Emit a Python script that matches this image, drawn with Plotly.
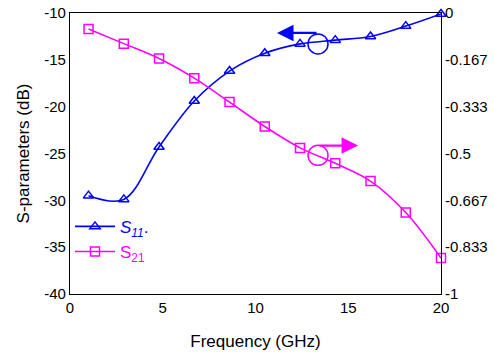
import plotly.graph_objects as go

freq = [1, 2.9, 4.8, 6.7, 8.6, 10.5, 12.4, 14.3, 16.2, 18.1, 20]
s11_db = [-29.5, -29.9, -24.3, -19.4, -16.2, -14.3, -13.3, -12.9, -12.5, -11.4, -10.1]
s21_right = [-0.057, -0.109, -0.162, -0.232, -0.317, -0.404, -0.48, -0.535, -0.598, -0.710, -0.872]

x_ticks = [0, 5, 10, 15, 20]
y_ticks = [-10, -15, -20, -25, -30, -35, -40]
y_labels = ["-10", "-15", "-20", "-25", "-30", "-35", "-40"]
y2_ticks = [0, -1/6, -2/6, -3/6, -4/6, -5/6, -1]
y2_labels = ["0", "-0.167", "-0.333", "-0.5", "-0.667", "-0.833", "-1"]

BLUE = "#0000FF"
MAG = "#FF00FF"
FONT = "Liberation Sans, Arial, sans-serif"

fig = go.Figure()
fig.add_trace(go.Scatter(
    x=freq, y=s11_db, mode="lines+markers",
    name=f"<span style='color:{BLUE}'><i>S<sub>11</sub></i>.</span>",
    line=dict(color=BLUE, width=1.6, shape="spline", smoothing=1.0),
    marker=dict(symbol="triangle-up-open", size=9, color=BLUE, line=dict(width=1.5)),
    cliponaxis=False,
))
fig.add_trace(go.Scatter(
    x=freq, y=s21_right, mode="lines+markers",
    name=f"<span style='color:{MAG}'>S<sub>21</sub></span>", yaxis="y2",
    line=dict(color=MAG, width=1.6, shape="spline", smoothing=1.0),
    marker=dict(symbol="square-open", size=9, color=MAG, line=dict(width=1.5)),
    cliponaxis=False,
))

# circles marking the curves
fig.add_shape(type="circle", xref="x", yref="y", xsizemode="pixel", ysizemode="pixel",
              xanchor=13.37, yanchor=-13.3, x0=-10, x1=10, y0=-10, y1=10,
              line=dict(color=BLUE, width=1.5))
fig.add_shape(type="circle", xref="x", yref="y", xsizemode="pixel", ysizemode="pixel",
              xanchor=13.37, yanchor=-25.2, x0=-10, x1=10, y0=-10, y1=10,
              line=dict(color=MAG, width=1.5))
# arrows
fig.add_annotation(x=11.16, y=-12.13, xref="x", yref="y", ax=41, ay=0, text="",
                   showarrow=True, arrowhead=2, arrowsize=1.5, arrowwidth=2.2, arrowcolor=BLUE)
fig.add_annotation(x=15.53, y=-24.15, xref="x", yref="y", ax=-40, ay=0, text="",
                   showarrow=True, arrowhead=2, arrowsize=1.5, arrowwidth=2.2, arrowcolor=MAG)

fig.update_layout(
    width=495, height=355,
    margin=dict(l=70, r=54, t=13, b=61),
    plot_bgcolor="white", paper_bgcolor="white",
    font=dict(family=FONT, size=15, color="black"),
    showlegend=True,
    legend=dict(x=0.0, y=0.303, xanchor="left", yanchor="top",
                bgcolor="rgba(0,0,0,0)", font=dict(size=17), itemwidth=40,
                tracegroupgap=0),
    xaxis=dict(range=[0, 20], tickvals=x_ticks, showgrid=False, zeroline=False,
               showline=True, linecolor="black", linewidth=1.2, mirror=True,
               ticks="", ticklen=0, automargin=False,
               title=dict(text="Frequency (GHz)", font=dict(size=17), standoff=20)),
    yaxis=dict(range=[-40, -10], tickvals=y_ticks, ticktext=y_labels, showgrid=False,
               zeroline=False, showline=True, linecolor="black", linewidth=1.2,
               ticks="", ticklen=0, automargin=False,
               title=dict(text="S-parameters (dB)", font=dict(size=17), standoff=10)),
    yaxis2=dict(range=[-1, 0], tickvals=y2_ticks, ticktext=y2_labels, overlaying="y",
                side="right", showgrid=False, zeroline=False, showline=True,
                linecolor="black", linewidth=1.2, ticks="", ticklen=0, automargin=False),
)

fig.write_html("out.html", config={"displayModeBar": False},
               post_script="document.body.style.margin='0';")
